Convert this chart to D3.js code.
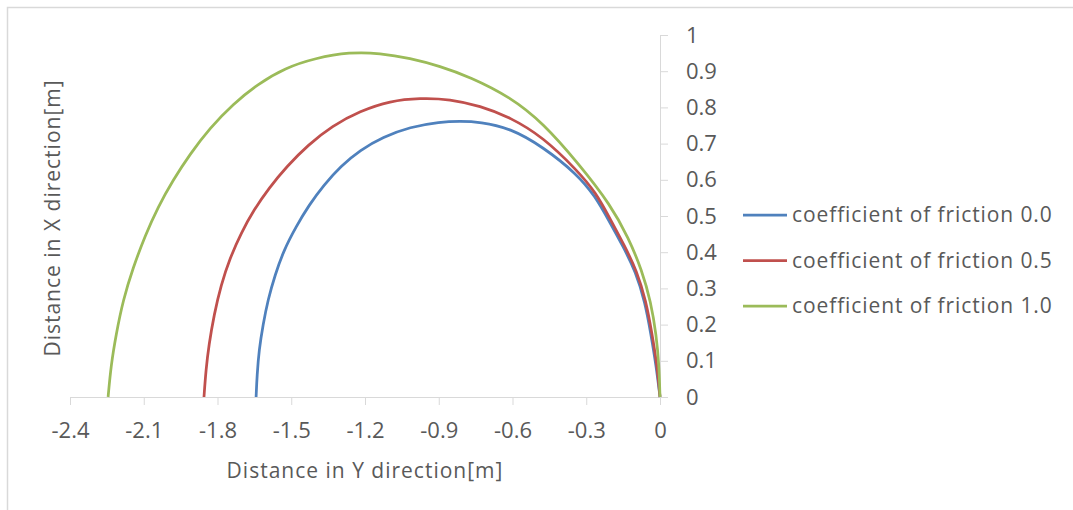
<!DOCTYPE html>
<html>
<head>
<meta charset="utf-8">
<script src="https://cdn.jsdelivr.net/npm/d3@7"></script>
<style>
  body { margin: 0; background: #fff; }
  text { font-family: "Open Sans", sans-serif; fill: #595959; }
</style>
</head>
<body>
<div id="chart"></div>
<script>
// tick labels
const xTicks = [-2.4, -2.1, -1.8, -1.5, -1.2, -0.9, -0.6, -0.3, 0];
const yTicks = [0, 0.1, 0.2, 0.3, 0.4, 0.5, 0.6, 0.7, 0.8, 0.9, 1];

// series names + colours
const seriesNames = ["coefficient of friction 0.0", "coefficient of friction 0.5", "coefficient of friction 1.0"];
const seriesColors = ["#4F81BD", "#C0504D", "#9BBB59"];

// friction 0.0 : distance in Y (horizontal) / distance in X (vertical)
const y00 = [-1.643, -1.639, -1.631, -1.615, -1.595, -1.566, -1.530, -1.481, -1.428, -1.367, -1.298, -1.220, -1.127, -1.017, -0.895, -0.814, -0.732, -0.610, -0.476, -0.338, -0.264, -0.207, -0.151, -0.098, -0.061, -0.037, -0.016, 0];
const x00 = [0, 0.061, 0.130, 0.199, 0.268, 0.337, 0.406, 0.470, 0.530, 0.586, 0.638, 0.682, 0.718, 0.746, 0.760, 0.762, 0.760, 0.743, 0.691, 0.616, 0.555, 0.486, 0.417, 0.345, 0.262, 0.174, 0.088, 0];

// friction 0.5
const y05 = [-1.855, -1.847, -1.835, -1.814, -1.786, -1.749, -1.704, -1.652, -1.591, -1.517, -1.432, -1.334, -1.220, -1.098, -0.976, -0.854, -0.732, -0.610, -0.476, -0.338, -0.260, -0.203, -0.146, -0.094, -0.057, -0.033, -0.012, 0];
const x05 = [0, 0.075, 0.144, 0.227, 0.309, 0.384, 0.453, 0.517, 0.577, 0.638, 0.696, 0.749, 0.790, 0.818, 0.826, 0.823, 0.804, 0.773, 0.718, 0.627, 0.564, 0.492, 0.420, 0.348, 0.265, 0.177, 0.088, 0];

// friction 1.0
const y10 = [-2.245, -2.233, -2.213, -2.184, -2.144, -2.095, -2.042, -1.981, -1.912, -1.831, -1.737, -1.635, -1.525, -1.403, -1.261, -1.139, -1.017, -0.895, -0.773, -0.610, -0.476, -0.333, -0.200, -0.128, -0.074, -0.037, -0.015, -0.004, 0];
const x10 = [0, 0.088, 0.171, 0.268, 0.356, 0.445, 0.525, 0.599, 0.671, 0.743, 0.809, 0.865, 0.909, 0.936, 0.953, 0.950, 0.936, 0.914, 0.884, 0.829, 0.757, 0.646, 0.530, 0.439, 0.351, 0.262, 0.171, 0.088, 0];

const W = 1073, H = 510;

const svg = d3.select("#chart")
  .append("svg")
  .attr("width", W)
  .attr("height", H);

// chart border (only top + left visible in the picture)
svg.append("rect")
  .attr("x", 7.5).attr("y", 7.5)
  .attr("width", W + 20).attr("height", H + 20)
  .attr("fill", "none")
  .attr("stroke", "#D9D9D9")
  .attr("stroke-width", 1.5);

const xScale = d3.scaleLinear().domain([-2.4, 0]).range([70, 660]);
const yScale = d3.scaleLinear().domain([0, 1]).range([397, 35]);

const fmt = d => String(+d.toFixed(1));

// x axis (bottom)
const xAxis = svg.append("g")
  .attr("transform", "translate(0," + yScale(0) + ")")
  .call(d3.axisBottom(xScale).tickValues(xTicks).tickFormat(fmt).tickSize(8).tickSizeOuter(0).tickPadding(17));

// y axis (right side, at x = 0)
const yAxis = svg.append("g")
  .attr("transform", "translate(" + xScale(0) + ",0)")
  .call(d3.axisRight(yScale).tickValues(yTicks).tickFormat(fmt).tickSize(8).tickSizeOuter(0).tickPadding(18));

[xAxis, yAxis].forEach(g => {
  g.select(".domain").attr("stroke", "#D9D9D9");
  g.selectAll(".tick line").attr("stroke", "#D9D9D9");
  g.selectAll(".tick text")
    .attr("fill", "#595959")
    .style("font-family", "'Open Sans', sans-serif")
    .style("font-size", "22px");
});

// axis titles
svg.append("text")
  .attr("x", 365)
  .attr("y", 478)
  .attr("text-anchor", "middle")
  .style("font-size", "21px")
  .style("letter-spacing", "1px")
  .text("Distance in Y direction[m]");

svg.append("text")
  .attr("transform", "translate(60,218) rotate(-90)")
  .attr("text-anchor", "middle")
  .style("font-size", "21px")
  .style("letter-spacing", "1px")
  .text("Distance in X direction[m]");

// lines
const series = [
  { name: seriesNames[0], color: seriesColors[0], ys: y00, xs: x00 },
  { name: seriesNames[1], color: seriesColors[1], ys: y05, xs: x05 },
  { name: seriesNames[2], color: seriesColors[2], ys: y10, xs: x10 }
];

const line = d3.line()
  .x(d => xScale(d[0]))
  .y(d => yScale(d[1]))
  .curve(d3.curveBasis);

svg.selectAll(".series")
  .data(series)
  .enter().append("path")
  .attr("class", "series")
  .attr("fill", "none")
  .attr("stroke", d => d.color)
  .attr("stroke-width", 2.75)
  .attr("d", d => line(d.ys.map((v, i) => [v, d.xs[i]])));

// legend
const legend = svg.selectAll(".legend")
  .data(series)
  .enter().append("g")
  .attr("class", "legend")
  .attr("transform", (d, i) => "translate(743," + (215 + i * 45.5) + ")");

legend.append("line")
  .attr("x1", 0).attr("x2", 44)
  .attr("stroke", d => d.color)
  .attr("stroke-width", 2.75);

legend.append("text")
  .attr("x", 49)
  .attr("dy", "0.35em")
  .style("font-size", "21px")
  .style("letter-spacing", "0.9px")
  .text(d => d.name);
</script>
</body>
</html>
